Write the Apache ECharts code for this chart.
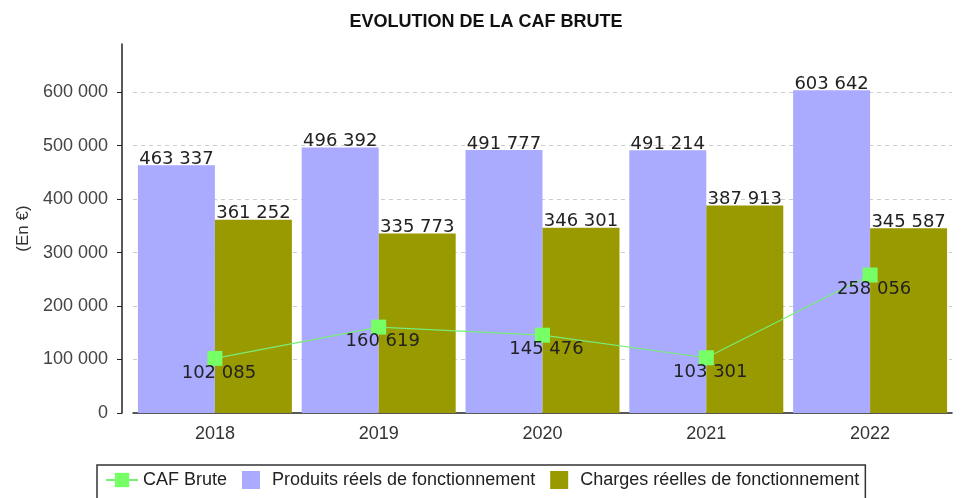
<!DOCTYPE html>
<html>
<head>
<meta charset="utf-8">
<script src="https://cdn.jsdelivr.net/npm/echarts@6/dist/echarts.min.js"></script>
<style>
html, body { margin: 0; padding: 0; background: #fff; }
#chart { width: 972px; height: 498px; }
</style>
</head>
<body>
<div id="chart"></div>
<script>
const years = ["2018", "2019", "2020", "2021", "2022"];
const produits = [463337, 496392, 491777, 491214, 603642];
const charges = [361252, 335773, 346301, 387913, 345587];
const cafBrute = [102085, 160619, 145476, 103301, 258056];
const yTicks = [0, 100000, 200000, 300000, 400000, 500000, 600000];

const fmt = v => String(v).replace(/\B(?=(\d{3})+(?!\d))/g, " ");

const chart = echarts.init(document.getElementById("chart"));
const square = "path://M0,0L10,0L10,10L0,10Z";
const barLabel = {
    show: true,
    position: "top",
    distance: -3,
    fontFamily: "DejaVu Sans",
    fontSize: 18,
    color: "#222",
    formatter: p => fmt(p.value)
};
const option = {
    animation: false,
    title: {
        text: "EVOLUTION DE LA CAF BRUTE",
        left: "center",
        top: 8,
        textStyle: { fontFamily: "Liberation Sans", fontSize: 18, fontWeight: "bold", color: "#111" }
    },
    legend: {
        data: [
            { name: "CAF Brute" },
            { name: "Produits réels de fonctionnement", icon: square },
            { name: "Charges réelles de fonctionnement", icon: square }
        ],
        left: 97,
        top: 465,
        padding: [6, 6, 12, 8],
        borderColor: "#333",
        borderWidth: 1.5,
        itemWidth: 32,
        itemHeight: 18,
        itemGap: 15,
        textStyle: { fontFamily: "Liberation Sans", fontSize: 18, color: "#222" }
    },
    grid: { left: 133, right: 20, top: 44, bottom: 85 },
    xAxis: {
        type: "category",
        data: years,
        axisLine: { lineStyle: { color: "#222", width: 1.5 } },
        axisTick: { show: false },
        axisLabel: { fontFamily: "Liberation Sans", fontSize: 18, color: "#333", margin: 12 }
    },
    yAxis: {
        type: "value",
        min: 0,
        max: 690000,
        interval: 100000,
        offset: 11,
        name: "(En €)",
        nameLocation: "middle",
        nameGap: 90,
        nameTextStyle: { fontFamily: "Liberation Sans", fontSize: 17, color: "#333" },
        axisLine: { show: true, lineStyle: { color: "#222", width: 1.5 } },
        axisTick: { show: true, length: 5, lineStyle: { color: "#222" } },
        axisLabel: {
            showMaxLabel: false,
            margin: 14,
            fontFamily: "Liberation Sans",
            fontSize: 18,
            color: "#444",
            formatter: v => yTicks.includes(v) ? fmt(v) : ""
        },
        splitLine: { showMaxLine: false, showMinLine: false, lineStyle: { type: [4, 4], color: "#ccc" } }
    },
    series: [
        {
            name: "Produits réels de fonctionnement",
            type: "bar",
            data: produits,
            barGap: 0,
            barCategoryGap: "6%",
            itemStyle: { color: "#aaaaff" },
            label: barLabel
        },
        {
            name: "Charges réelles de fonctionnement",
            type: "bar",
            data: charges,
            itemStyle: { color: "#999900" },
            label: barLabel
        },
        {
            name: "CAF Brute",
            type: "line",
            data: cafBrute,
            z: 5,
            symbol: "rect",
            symbolSize: 15,
            lineStyle: { color: "#77ee77", width: 1.2 },
            itemStyle: { color: "#77ff66" },
            label: {
                show: true,
                position: "bottom",
                offset: [4, -7],
                fontFamily: "DejaVu Sans",
                fontSize: 18,
                color: "#222",
                formatter: p => fmt(p.value)
            }
        }
    ]
};
chart.setOption(option);
</script>
</body>
</html>
